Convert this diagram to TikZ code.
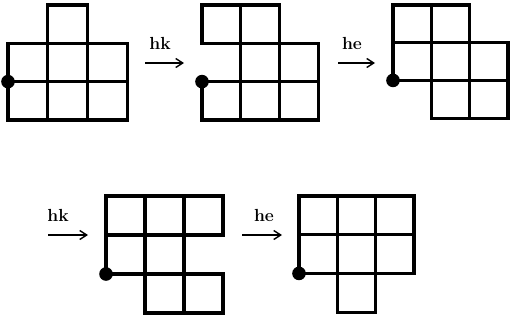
\documentclass[tikz,border=0pt]{standalone}
\usetikzlibrary{arrows.meta}
\begin{document}
\begin{tikzpicture}[x=1pt,y=-1pt,
  gridline/.style={line width=3.2pt},
  dotmark/.style={fill=black},
  lbl/.style={font=\fontsize{17.5}{20}\selectfont\bfseries, inner sep=0pt},
  stepArrow/.style={line width=1.4pt,-{Straight Barb[length=7pt,width=9pt,line width=1.4pt]}}
]
\useasboundingbox (0,0) rectangle (510,322);
\newcommand{\cellsq}[2]{\draw[gridline] (#1,#2) rectangle (#1+1,#2+1);}
% Diagram 1
\begin{scope}[shift={(8,5)},x=39.7pt,y=-38.3pt]
  \foreach \c/\r in {1/0,0/1,1/1,2/1,0/2,1/2,2/2} {\cellsq{\c}{\r}}
  \fill[dotmark] (0,2) circle[radius=6.8pt];
\end{scope}
% Diagram 2
\begin{scope}[shift={(202,5)},x=38.7pt,y=-38.3pt]
  \foreach \c/\r in {0/0,1/0,1/1,2/1,0/2,1/2,2/2} {\cellsq{\c}{\r}}
  \fill[dotmark] (0,2) circle[radius=6.8pt];
\end{scope}
% Diagram 3
\begin{scope}[shift={(393,5)},x=38.3pt,y=-37.7pt]
  \foreach \c/\r in {0/0,1/0,0/1,1/1,2/1,1/2,2/2} {\cellsq{\c}{\r}}
  \fill[dotmark] (0,2) circle[radius=6.8pt];
\end{scope}
% Diagram 4
\begin{scope}[shift={(106,196)},x=39pt,y=-39pt]
  \foreach \c/\r in {0/0,1/0,2/0,0/1,1/1,1/2,2/2} {\cellsq{\c}{\r}}
  \fill[dotmark] (0,2) circle[radius=6.8pt];
\end{scope}
% Diagram 5
\begin{scope}[shift={(299,196)},x=38.3pt,y=-38.7pt]
  \foreach \c/\r in {0/0,1/0,2/0,0/1,1/1,2/1,1/2} {\cellsq{\c}{\r}}
  \fill[dotmark] (0,2) circle[radius=6.8pt];
\end{scope}
% Labels and arrows
\node[lbl] (l1) at (160,43) {hk};
\node[lbl] (l2) at (352,43) {he};
\node[lbl] (l3) at (58,215) {hk};
\node[lbl] (l4) at (264,215) {he};
\coordinate (a1s) at (145,63); \coordinate (a1e) at (184,63);
\coordinate (a2s) at (338,63); \coordinate (a2e) at (375,63);
\coordinate (a3s) at (48,235); \coordinate (a3e) at (88,235);
\coordinate (a4s) at (242,235); \coordinate (a4e) at (282,235);
\draw[stepArrow] (a1s) -- (a1e);
\draw[stepArrow] (a2s) -- (a2e);
\draw[stepArrow] (a3s) -- (a3e);
\draw[stepArrow] (a4s) -- (a4e);
\end{tikzpicture}
\end{document}
